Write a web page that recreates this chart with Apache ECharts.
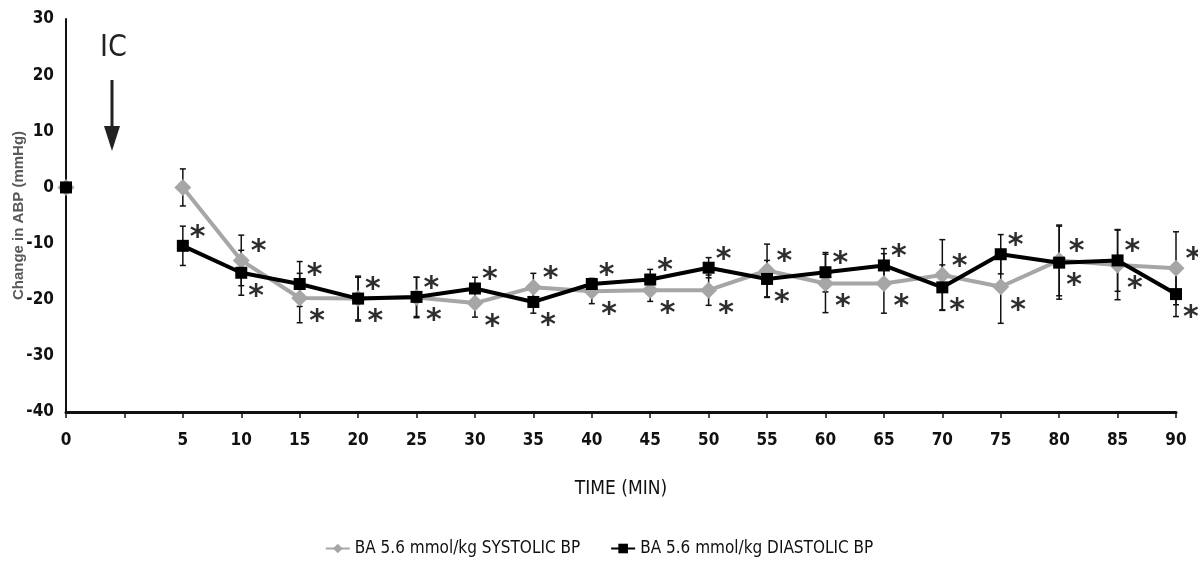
<!DOCTYPE html>
<html><head><meta charset="utf-8">
<script src="https://cdn.jsdelivr.net/npm/echarts@6/dist/echarts.min.js"></script>
<style>html,body{margin:0;padding:0;background:#fff}#c{width:1198px;height:566px}</style>
</head><body><div id="c"></div>
<script>
const categories = ["0","","5","10","15","20","25","30","35","40","45","50","55","60","65","70","75","80","85","90"];
const systolic  = [0, null, 0, -13, -19.7, -19.8, -19.6, -20.6, -17.8, -18.5, -18.3, -18.3, -14.8, -17.1, -17.1, -15.6, -17.7, -13, -13.8, -14.4];
const systolicErr = [0, null, 3.3, 4.5, 4.4, 4, 3.6, 2.5, 2.5, 2.2, 2, 2.7, 4.7, 5.2, 5.3, 6.3, 6.5, 6.3, 6.2, 6.5];
const diastolic = [0, null, -10.4, -15.2, -17.2, -19.8, -19.5, -18, -20.4, -17.2, -16.4, -14.3, -16.3, -15.1, -13.9, -17.8, -11.9, -13.4, -13.0, -19.0];
const diastolicErr = [0, null, 3.5, 4, 4, 3.8, 3.5, 2, 2, 1, 1.8, 1.8, 3.3, 3.5, 3, 4, 3.5, 6.5, 5.5, 4];
const systolicSig  = [false, false, false, true, true, true, true, true, true, true, true, true, true, true, true, true, true, true, true, true];
const diastolicSig = [false, false, true, true, true, true, true, true, true, true, true, true, true, true, true, true, true, true, true, true];
const yTicks = {min: -40, max: 30, interval: 10};
const seriesNames = ["BA 5.6 mmol/kg SYSTOLIC BP", "BA 5.6 mmol/kg DIASTOLIC BP"];

const FONT = '"Liberation Sans Narrow", "DejaVu Sans Condensed", "Roboto Condensed", sans-serif';

function withStars(vals, sig, other, otherSig, isSys) {
  return vals.map((v, i) => {
    if (v === null) return null;
    if (!sig[i]) return v;
    const o = other[i];
    const below = otherSig[i] && (isSys ? (v <= o) : (v < o));
    return {value: v, label: {show: true, formatter: '*', position: 'right',
      offset: below ? [-4, 24] : [-4, -8]}};
  });
}
function errData(vals, errs) {
  const out = [];
  vals.forEach((v, i) => { if (v !== null && errs[i] > 0) out.push([i, v - errs[i], v + errs[i]]); });
  return out;
}
function renderErr(params, api) {
  const lo = api.coord([api.value(0), api.value(1)]);
  const hi = api.coord([api.value(0), api.value(2)]);
  const w = 3;
  const st = {stroke: '#111', lineWidth: 1.5};
  return {type: 'group', children: [
    {type: 'line', shape: {x1: lo[0], y1: lo[1], x2: hi[0], y2: hi[1]}, style: st},
    {type: 'line', shape: {x1: lo[0]-w, y1: lo[1], x2: lo[0]+w, y2: lo[1]}, style: st},
    {type: 'line', shape: {x1: hi[0]-w, y1: hi[1], x2: hi[0]+w, y2: hi[1]}, style: st}
  ]};
}
const starLabel = {fontSize: 30, fontWeight: 'bold', color: '#2e2e2e', fontFamily: 'DejaVu Sans'};

const chart = echarts.init(document.getElementById('c'), null, {renderer: 'canvas'});
chart.setOption({
  animation: false,
  backgroundColor: '#fff',
  grid: {left: 66, right: 22, top: 19, bottom: 154, containLabel: false, outerBoundsMode: 'none'},
  legend: {
    bottom: 4, left: 'center', itemGap: 30, itemWidth: 24, itemHeight: 12,
    data: seriesNames,
    textStyle: {fontFamily: FONT, fontSize: 17, color: '#111'}
  },
  xAxis: {
    type: 'category', data: categories, boundaryGap: false,
    name: 'TIME (MIN)', nameLocation: 'middle', nameGap: 68,
    nameTextStyle: {fontFamily: FONT, fontSize: 19, color: '#111'},
    axisLine: {onZero: false, lineStyle: {color: '#111', width: 3}},
    axisTick: {show: true, length: 6, lineStyle: {color: '#111', width: 1.5}, interval: 0},
    axisLabel: {interval: 0, fontFamily: FONT, fontSize: 17, fontWeight: 'bold', color: '#111', margin: 20},
    splitLine: {show: false}
  },
  yAxis: {
    type: 'value', min: yTicks.min, max: yTicks.max, interval: yTicks.interval,
    name: 'Change in ABP (mmHg)', nameLocation: 'middle', nameGap: 40, nameMoveOverlap: false,
    nameTextStyle: {fontFamily: '"Liberation Sans", Arial, sans-serif', fontSize: 15, fontWeight: 'bold', color: '#595959'},
    axisLine: {show: true, lineStyle: {color: '#111', width: 2}},
    axisTick: {show: false},
    axisLabel: {fontFamily: FONT, fontSize: 17, fontWeight: 'bold', color: '#111', margin: 12},
    splitLine: {show: false}
  },
  graphic: [
    {type: 'text', left: 100, top: 33, style: {text: 'IC', fontFamily: FONT, fontSize: 30, fill: '#222'}},
    {type: 'line', shape: {x1: 112, y1: 80, x2: 112, y2: 132}, style: {stroke: '#222', lineWidth: 3}},
    {type: 'polygon', shape: {points: [[104, 126], [120, 126], [112, 151]]}, style: {fill: '#222'}}
  ],
  series: [
    {type: 'custom', name: 'sysErr', renderItem: renderErr, data: errData(systolic, systolicErr), z: 1, silent: true},
    {type: 'custom', name: 'diaErr', renderItem: renderErr, data: errData(diastolic, diastolicErr), z: 1, silent: true},
    {
      name: seriesNames[0], type: 'line', data: withStars(systolic, systolicSig, diastolic, diastolicSig, true),
      symbol: 'diamond', symbolSize: 17, connectNulls: false, z: 2,
      lineStyle: {color: '#a6a6a6', width: 4}, itemStyle: {color: '#a6a6a6'},
      label: Object.assign({show: false}, starLabel)
    },
    {
      name: seriesNames[1], type: 'line', data: withStars(diastolic, diastolicSig, systolic, systolicSig, false),
      symbol: 'rect', symbolSize: 12, connectNulls: false, z: 3,
      lineStyle: {color: '#000', width: 4}, itemStyle: {color: '#000'},
      label: Object.assign({show: false}, starLabel)
    }
  ]
});
</script></body></html>
